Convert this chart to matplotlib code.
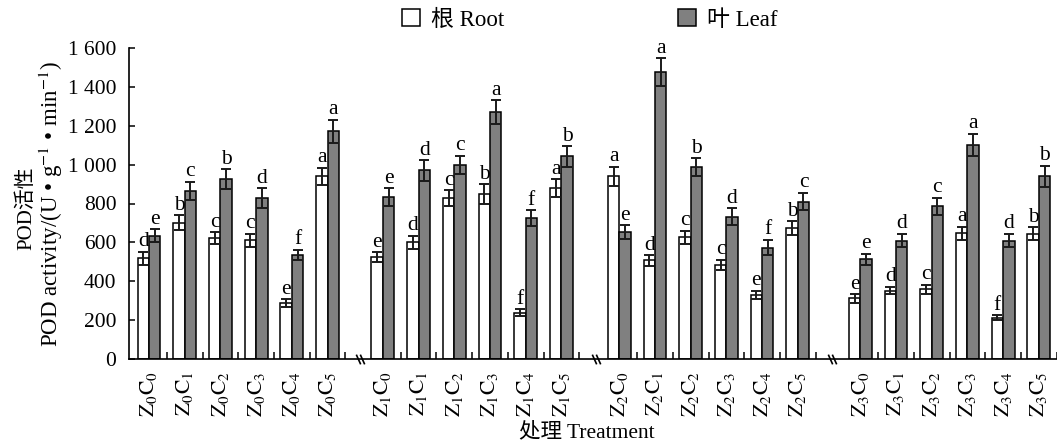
import matplotlib
matplotlib.use("Agg")
import matplotlib.pyplot as plt
from matplotlib.patches import Patch
from matplotlib.path import Path
import numpy as np

plt.rcParams['font.family'] = ['Liberation Serif', 'Noto Sans CJK SC', 'DejaVu Sans']
plt.rcParams['mathtext.fontset'] = 'stix'

# ---- data ----
groups = ['Z0', 'Z1', 'Z2', 'Z3']
treatments = ['C0', 'C1', 'C2', 'C3', 'C4', 'C5']
labels = [r'$\mathrm{Z_{%d}C_{%d}}$' % (z, c) for z in range(4) for c in range(6)]

root = [518, 702, 622, 610, 287, 939,
        524, 601, 828, 848, 239, 879,
        939, 507, 627, 484, 330, 673,
        312, 352, 359, 647, 213, 644]
root_err = [35, 38, 30, 34, 20, 45,
            26, 33, 41, 50, 17, 45,
            50, 26, 34, 27, 22, 36,
            22, 19, 23, 34, 13, 34]
leaf = [634, 865, 925, 828, 536, 1171,
        833, 970, 999, 1269, 725, 1042,
        651, 1475, 986, 733, 573, 810,
        513, 609, 785, 1102, 609, 939]
leaf_err = [34, 47, 51, 50, 27, 60,
            45, 53, 46, 61, 40, 52,
            36, 71, 47, 43, 39, 46,
            28, 34, 45, 56, 34, 54]
root_letters = list('dbccea' 'edcbfa' 'adcceb' 'edcafb')
leaf_letters = list('ecbdfa' 'edcafb' 'eabdfc' 'edcadb')

# ---- layout ----
W, H = 1057, 446
fig = plt.figure(figsize=(W / 100, H / 100), dpi=100)
ax = fig.add_axes([129 / W, 1 - 359 / H, 1 - 129 / W, (359 - 48) / H])

group_offsets = [0.0, 6.55, 13.17, 19.92]
x = np.array([g + k for g in group_offsets for k in range(6)])
bw = 0.32

ax.bar(x - bw / 2, root, bw, color='white', edgecolor='black', linewidth=1.1, zorder=2)
ax.bar(x + bw / 2, leaf, bw, color='#808080', edgecolor='black', linewidth=1.1, zorder=2)
ax.errorbar(x - bw / 2, root, yerr=root_err, fmt='none', ecolor='#1a1a1a',
            elinewidth=1.4, capsize=3.3, capthick=1.4, zorder=3)
ax.errorbar(x + bw / 2, leaf, yerr=leaf_err, fmt='none', ecolor='#1a1a1a',
            elinewidth=1.4, capsize=3.3, capthick=1.4, zorder=3)

for xi, v, e, t in zip(x - bw / 2, root, root_err, root_letters):
    ax.annotate(t, (xi, v + e), xytext=(0, 4), textcoords='offset points',
                ha='center', va='baseline', fontsize=15.5)
for xi, v, e, t in zip(x + bw / 2, leaf, leaf_err, leaf_letters):
    ax.annotate(t, (xi, v + e), xytext=(0, 4), textcoords='offset points',
                ha='center', va='baseline', fontsize=15.5)

ax.set_xlim(-0.56, 25.43)
ax.set_ylim(0, 1600)
yt = np.arange(0, 1601, 200)
ax.set_yticks(yt)
ax.set_yticklabels([('{:,}'.format(v)).replace(',', ' ') for v in yt], fontsize=15.5)
ax.tick_params(axis='y', direction='in', length=4, width=1.1, pad=9)

ax.set_xticks(x)
ax.set_xticklabels(labels, rotation=90, fontsize=15.5)
ax.tick_params(axis='x', which='major', length=0, pad=9)
minor = [g + k + 0.5 for g in group_offsets for k in range(6)]
ax.set_xticks(minor, minor=True)
ax.tick_params(axis='x', which='minor', direction='in', length=5, width=1.1)

for s in ['top', 'right']:
    ax.spines[s].set_visible(False)
for s in ['left', 'bottom']:
    ax.spines[s].set_linewidth(1.2)

# axis break marks
brk = Path([(-0.45, 1.0), (0.45, -1.0)], [Path.MOVETO, Path.LINETO])
for xb in [5.91, 12.52, 19.13]:
    ax.plot([xb - 0.06, xb + 0.06], [0, 0], linestyle='none', marker=brk,
            markersize=7, markeredgewidth=1.2, color='black', clip_on=False, zorder=5)

# axis labels
fig.text(27 / W, 1 - 208 / H, 'POD活性', rotation=90, ha='center', va='center', fontsize=15)
fig.text(51 / W, 1 - 204 / H, r'POD activity/(U • g$^{-1}$ • min$^{-1}$)', rotation=90,
         ha='center', va='center', fontsize=16.5)
fig.text(587 / W, 1 - 432 / H, '处理 Treatment', ha='center', va='center', fontsize=15.5)

handles = [Patch(facecolor='white', edgecolor='black', linewidth=1.1),
           Patch(facecolor='#808080', edgecolor='black', linewidth=1.1)]
fig.legend(handles, ['根 Root', '叶 Leaf'], loc='center', bbox_to_anchor=(590 / W, 1 - 20 / H),
           ncol=2, frameon=False, fontsize=16.5, handlelength=0.75, handleheight=0.75,
           handletextpad=0.5, columnspacing=7.6)

fig.savefig('out.png', dpi=100)
